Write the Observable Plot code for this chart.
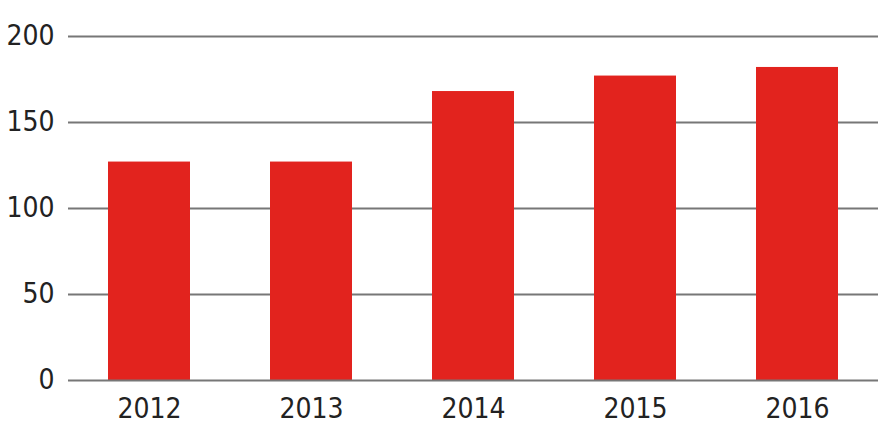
<!DOCTYPE html>
<html>
<head>
<meta charset="utf-8">
<script src="https://cdn.jsdelivr.net/npm/d3@7"></script>
<script src="https://cdn.jsdelivr.net/npm/@observablehq/plot@0.6"></script>
<style>
html, body { margin: 0; padding: 0; background: #fff; }
#chart svg { display: block; }
</style>
</head>
<body>
<div id="chart"></div>
<script>
const years = ["2012", "2013", "2014", "2015", "2016"];
const values = [127, 127, 168, 177, 182];
const yTicks = [0, 50, 100, 150, 200];

const data = years.map((y, i) => ({year: y, value: values[i]}));

const chart = Plot.plot({
  width: 879,
  height: 443,
  marginLeft: 68,
  marginRight: 1,
  marginTop: 36,
  marginBottom: 63,
  style: {fontFamily: "'Liberation Sans Narrow', 'DejaVu Sans Condensed', sans-serif", fontSize: "28px", color: "#222", background: "#fff"},
  x: {domain: years, paddingInner: 0.494, paddingOuter: 0.247, label: null},
  y: {domain: [0, 200], label: null},
  marks: [
    Plot.ruleY(yTicks.filter(d => d > 0), {stroke: "#777", strokeWidth: 2}),
    Plot.barY(data, {x: "year", y: "value", fill: "#e2231e"}),
    Plot.ruleY([0], {stroke: "#777", strokeWidth: 2}),
    Plot.axisY({ticks: yTicks, tickSize: 0, tickPadding: 14, fontSize: 28, label: null}),
    Plot.axisX({tickSize: 0, tickPadding: 18, fontSize: 28, label: null})
  ]
});
document.getElementById("chart").appendChild(chart);
</script>
</body>
</html>
